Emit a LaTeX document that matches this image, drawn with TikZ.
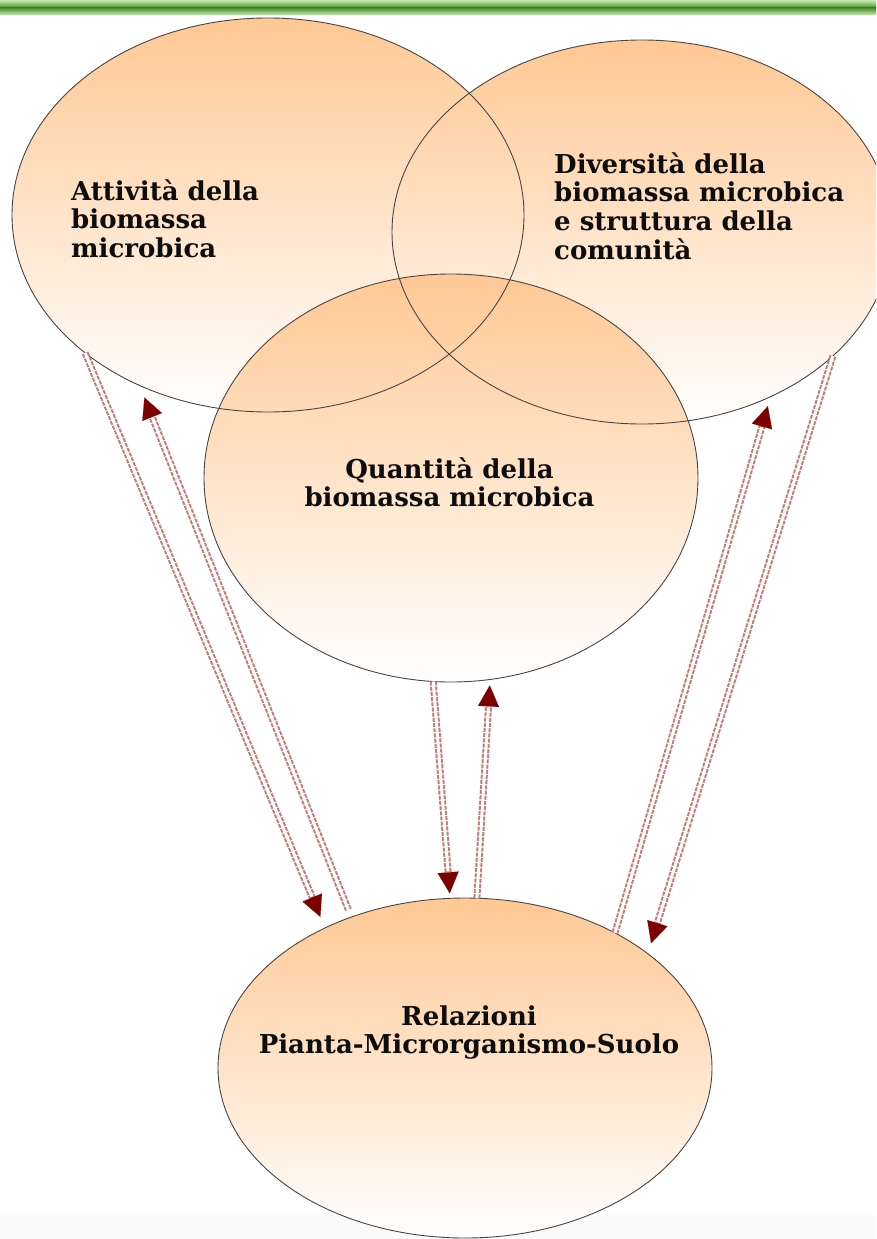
\documentclass[tikz,border=0pt]{standalone}
\usepackage{fontspec}
\setmainfont{DejaVu Serif}
\usetikzlibrary{shapes.geometric,arrows.meta}
\definecolor{peach}{RGB}{255,200,148}
\definecolor{tipred}{RGB}{125,0,0}
\definecolor{shaftred}{RGB}{200,120,120}
\definecolor{rimgray}{RGB}{70,70,70}
\definecolor{gdark}{RGB}{70,145,40}
\definecolor{glight}{RGB}{200,235,180}
\begin{document}
\begin{tikzpicture}[x=1pt,y=-1pt,
  bubble/.style={ellipse, inner sep=0pt, outer sep=0pt, top color=peach, bottom color=white, draw=none},
  rim/.style={draw=rimgray, line width=0.9pt},
  lbl/.style={inner sep=0pt, font=\fontsize{26}{28.5}\selectfont\bfseries, text=black!95},
  shaftout/.style={draw=shaftred, line width=7pt, dash pattern=on 4pt off 1.2pt},
  shaftin/.style={draw=white, line width=3pt},
  headtip/.style={-{Triangle[length=21pt 0 0,width=21pt 0 0,line width=0.1pt 0 0,color=tipred,fill=tipred]}}
]
\useasboundingbox (0,0) rectangle (876,1239);
\clip (0,0) rectangle (876,1239);
\fill[white] (0,0) rectangle (876,1239);
\fill[black!2] (0,1215) rectangle (876,1239);
\shade[top color=glight, bottom color=gdark] (0,0) rectangle (876,8);
\shade[top color=gdark, bottom color=glight] (0,8) rectangle (876,15);

% bubbles
\node[bubble, minimum width=512pt, minimum height=394pt] (act) at (268,215) {};
\node[bubble, minimum width=500pt, minimum height=384pt] (div) at (642,232) {};
\node[bubble, minimum width=494pt, minimum height=408pt] (qua) at (451,478) {};
\node[bubble, minimum width=494pt, minimum height=340pt] (rel) at (465,1068) {};

% rims
\draw[rim] (act.center) ellipse [x radius=256pt, y radius=197pt];
\draw[rim] (div.center) ellipse [x radius=250pt, y radius=192pt];
\draw[rim] (qua.center) ellipse [x radius=247pt, y radius=204pt];
\draw[rim] (rel.center) ellipse [x radius=247pt, y radius=170pt];

% connectors: left pair
\draw[shaftout, headtip, shorten >=12pt] (act.217.7) -- (rel.135.7);
\draw[shaftin, shorten >=34pt] (act.217.7) -- (rel.135.7);
\draw[shaftout, headtip, shorten <=8pt, shorten >=13pt] (rel.127.4) -- (act.233.1);
\draw[shaftin, shorten <=8pt, shorten >=35pt] (rel.127.4) -- (act.233.1);
% middle pair
\draw[shaftout, headtip, shorten >=5pt] (qua.265) -- (rel.95.9);
\draw[shaftin, shorten >=27pt] (qua.265) -- (rel.95.9);
\draw[shaftout, headtip, shorten >=6pt] (rel.86) -- (qua.281.35);
\draw[shaftin, shorten >=28pt] (rel.86) -- (qua.281.35);
% right pair
\draw[shaftout, headtip, shorten >=10pt] (rel.42.2) -- (div.308.6);
\draw[shaftin, shorten >=32pt] (rel.42.2) -- (div.308.6);
\draw[shaftout, headtip, shorten >=11pt] (div.327.4) -- (rel.32.4);
\draw[shaftin, shorten >=33pt] (div.327.4) -- (rel.32.4);

% labels
\node[lbl, anchor=base west] (t-act) at (71,200)
  {\begin{tabular}[t]{@{}l@{}}Attività della\\biomassa\\microbica\end{tabular}};
\node[lbl, anchor=base west] (t-div) at (554,173)
  {\begin{tabular}[t]{@{}l@{}}Diversità della\\biomassa microbica\\e struttura della\\comunità\end{tabular}};
\node[lbl, anchor=base] (t-qua) at (449.5,478)
  {\begin{tabular}[t]{@{}c@{}}Quantità della\\biomassa microbica\end{tabular}};
\node[lbl, anchor=base] (t-rel) at (469,1025)
  {\begin{tabular}[t]{@{}c@{}}Relazioni\\Pianta-Microrganismo-Suolo\end{tabular}};
\end{tikzpicture}
\end{document}
